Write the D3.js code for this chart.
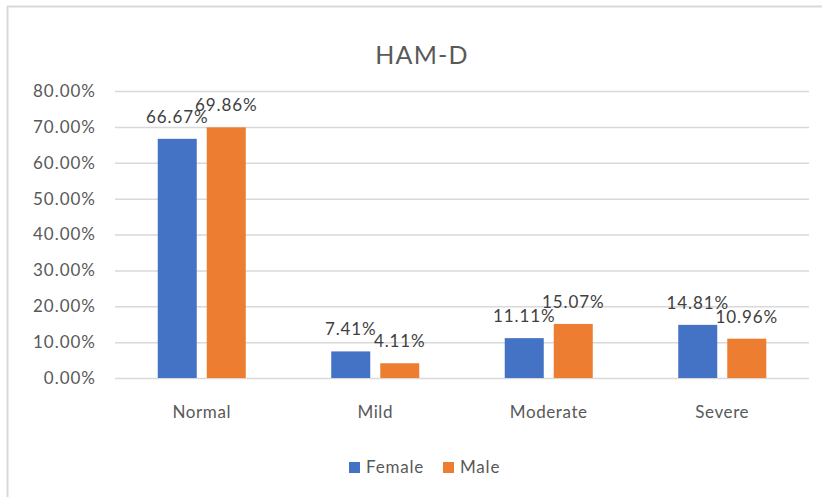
<!DOCTYPE html>
<html>
<head>
<meta charset="utf-8">
<script src="https://cdn.jsdelivr.net/npm/d3@7"></script>
<style>
  body { margin: 0; background: #fff; }
  svg { display: block; font-family: Lato, 'Open Sans', sans-serif; }
</style>
</head>
<body>
<figure style="margin:0"></figure>
<script>
// chart data
const categories = ['Normal', 'Mild', 'Moderate', 'Severe']
const seriesNames = ['Female', 'Male']
const femaleValues = [0.6667, 0.0741, 0.1111, 0.1481]
const maleValues = [0.6986, 0.0411, 0.1507, 0.1096]
const yTicks = [0, 0.1, 0.2, 0.3, 0.4, 0.5, 0.6, 0.7, 0.8]
const colors = ['#4472C4', '#ED7D31']
const title = 'HAM-D'

const svgWidth = 822
const svgHeight = 497

const margin = { left: 115, right: 13, top: 91, bottom: 119 }
const height = svgHeight - margin.top - margin.bottom

const textColor = '#595959'

const svg = d3.select('figure')
  .append('svg')
  .attr('width', svgWidth)
  .attr('height', svgHeight)

// chart frame (only top and left edges show)
svg.append('line')
  .attr('x1', 7).attr('x2', svgWidth)
  .attr('y1', 6.5).attr('y2', 6.5)
  .attr('stroke', '#d9d9d9').attr('stroke-width', 2)
svg.append('line')
  .attr('x1', 7.5).attr('x2', 7.5)
  .attr('y1', 6).attr('y2', svgHeight)
  .attr('stroke', '#d9d9d9').attr('stroke-width', 2)

// scales
const x0 = d3.scaleBand()
  .domain(categories)
  .range([margin.left, svgWidth - margin.right])
  .padding(0)

const x1 = d3.scaleBand()
  .domain(seriesNames)
  .range([0, x0.bandwidth()])
  .paddingInner(0.204)
  .paddingOuter(0.872)

const y = d3.scaleLinear()
  .domain([0, 0.8])
  .range([margin.top + height, margin.top])

const color = d3.scaleOrdinal().domain(seriesNames).range(colors)
const fmt = d3.format('.2%')

// gridlines + y labels
const yAxis = svg.append('g')
  .attr('transform', `translate(${margin.left},0)`)
  .call(d3.axisLeft(y)
    .tickValues(yTicks)
    .tickFormat(fmt)
    .tickSize(-(svgWidth - margin.left - margin.right))
    .tickPadding(19))
yAxis.select('.domain').remove()
yAxis.selectAll('.tick line')
  .attr('stroke', '#d9d9d9')
  .attr('stroke-width', 1.5)
yAxis.selectAll('.tick text')
  .attr('fill', textColor)
  .style('font-size', '17px')
  .style('letter-spacing', '1px')
  .style('font-family', 'Lato, sans-serif')

// bars
const rows = categories.map((c, i) => ({ category: c, values: [femaleValues[i], maleValues[i]] }))

const groups = svg.append('g')
  .selectAll('g')
  .data(rows)
  .enter().append('g')
  .attr('transform', d => `translate(${x0(d.category)},0)`)

groups.selectAll('rect')
  .data(d => d.values.map((v, k) => ({ key: seriesNames[k], value: v })))
  .enter().append('rect')
  .attr('x', d => x1(d.key))
  .attr('y', d => y(d.value))
  .attr('width', x1.bandwidth())
  .attr('height', d => y(0) - y(d.value))
  .attr('fill', d => color(d.key))

// data labels
groups.selectAll('text')
  .data(d => d.values.map((v, k) => ({ key: seriesNames[k], value: v })))
  .enter().append('text')
  .attr('x', d => x1(d.key) + x1.bandwidth() / 2)
  .attr('y', d => y(d.value) - 16)
  .attr('text-anchor', 'middle')
  .attr('fill', '#404040')
  .style('font-size', '17px')
  .style('letter-spacing', '0.9px')
  .text(d => fmt(d.value))

// category labels
svg.append('g')
  .selectAll('text')
  .data(categories)
  .enter().append('text')
  .attr('x', d => x0(d) + x0.bandwidth() / 2)
  .attr('y', 418)
  .attr('text-anchor', 'middle')
  .attr('fill', textColor)
  .style('font-size', '17px')
  .style('letter-spacing', '0.6px')
  .text(d => d)

// title
svg.append('text')
  .attr('x', 422)
  .attr('y', 64)
  .attr('text-anchor', 'middle')
  .attr('fill', textColor)
  .style('font-size', '25px')
  .style('letter-spacing', '1.2px')
  .text(title)

// legend
const legendX = [349, 443]
const legend = svg.append('g')
  .selectAll('g')
  .data(seriesNames)
  .enter().append('g')
  .attr('transform', (d, i) => `translate(${legendX[i]},462)`)
legend.append('rect')
  .attr('width', 11)
  .attr('height', 11)
  .attr('fill', d => color(d))
legend.append('text')
  .attr('x', 17)
  .attr('y', 11)
  .attr('fill', textColor)
  .style('font-size', '17px')
  .style('letter-spacing', '0.8px')
  .text(d => d)
</script>
</body>
</html>
